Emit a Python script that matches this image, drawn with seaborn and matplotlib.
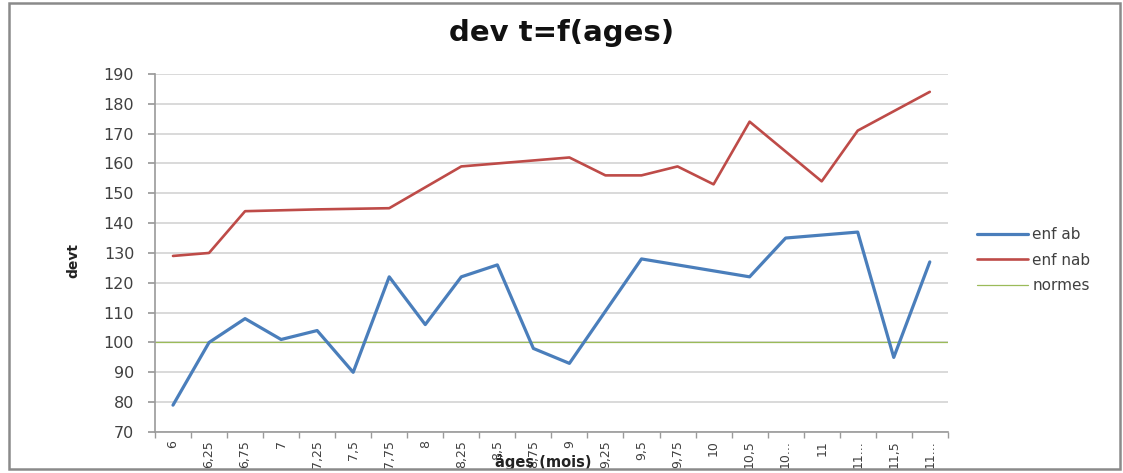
import matplotlib
matplotlib.use("Agg")
import matplotlib.pyplot as plt
from matplotlib.patches import Rectangle
from matplotlib.ticker import FixedLocator, MultipleLocator
import seaborn as sns
import pandas as pd

# age categories (months) as shown on the x axis
ages = ["6", "6,25", "6,75", "7", "7,25", "7,5", "7,75", "8", "8,25", "8,5", "8,75",
        "9", "9,25", "9,5", "9,75", "10", "10,5", "10...", "11", "11...", "11,5", "11..."]

# devt values
enf_ab = [79, 100, 108, 101, 104, 90, 122, 106, 122, 126, 98,
          93, 110.5, 128, 126, 124, 122, 135, 136, 137, 95, 127]
enf_nab = [129, 130, 144, 144.3, 144.6, 144.8, 145, 152, 159, 160, 161,
           162, 156, 156, 159, 153, 174, 164, 154, 171, 177.5, 184]
normes = 100

series = {"enf ab": enf_ab, "enf nab": enf_nab}
colors = {"enf ab": "#4a7ebb", "enf nab": "#be4b48", "normes": "#9bbb59"}
widths = {"enf ab": 2.3, "enf nab": 1.9, "normes": 0.9}

df = pd.DataFrame({"pos": list(range(len(ages))) * 2,
                   "devt": enf_ab + enf_nab,
                   "serie": [s for s in series for _ in ages]})

sns.set_theme(style="white")
plt.rcParams['font.family'] = ['DejaVu Sans']

fig = plt.figure(figsize=(11.23, 4.73), dpi=100)
ax = fig.add_axes([0.138, 0.0867, 0.706, 0.757])

for name in series:
    sub = df[df["serie"] == name]
    sns.lineplot(data=sub, x="pos", y="devt", ax=ax, color=colors[name],
                 linewidth=widths[name], label=name, sort=False, zorder=3)
# the norm line runs across the whole plot area
ax.axhline(normes, color=colors["normes"], linewidth=widths["normes"], label="normes", zorder=2)

ax.set_xlim(-0.5, len(ages) - 0.5)
ax.set_ylim(70, 190)
ax.yaxis.set_major_locator(MultipleLocator(10))
ax.grid(axis="y", color="#d9d9d9", linewidth=1.4, zorder=0)
ax.grid(axis="x", visible=False)

for side in ["top", "right"]:
    ax.spines[side].set_visible(False)
for side in ["left", "bottom"]:
    ax.spines[side].set_color("#9a9a9a")
    ax.spines[side].set_linewidth(1.2)

ax.set_xticks(range(len(ages)))
ax.set_xticklabels(ages, rotation=90, fontsize=9, color="#404040")
ax.xaxis.set_minor_locator(FixedLocator([i - 0.5 for i in range(len(ages) + 1)]))
ax.tick_params(axis="x", which="major", length=0, pad=6)
ax.tick_params(axis="x", which="minor", length=4, color="#9a9a9a", direction="out", bottom=True)
ax.tick_params(axis="y", length=5, color="#9a9a9a", direction="out", left=True,
               labelsize=11.5, labelcolor="#404040", pad=10)

ax.set_ylabel("devt", fontsize=10, fontweight="bold", color="#222222")
ax.yaxis.set_label_coords(-0.094, 0.48)
ax.set_xlabel("âges (mois)", fontsize=10.5, fontweight="bold", color="#222222")
ax.xaxis.set_label_coords(0.49, -0.062)

fig.text(0.5, 0.93, "dev t=f(ages)", ha="center", va="center",
         fontsize=21, fontweight="bold", color="#111111")

leg = ax.legend(loc="center left", bbox_to_anchor=(0.858, 0.45),
                bbox_transform=fig.transFigure, frameon=False, fontsize=11,
                handlelength=3.3, handletextpad=0.3, labelspacing=0.7)
for t in leg.get_texts():
    t.set_color("#404040")

fig.patches.append(Rectangle((0.008, 0.0085), 0.989, 0.985, transform=fig.transFigure,
                             fill=False, edgecolor="#8a8a8a", linewidth=1.8))

plt.savefig("out.png", dpi=100)
